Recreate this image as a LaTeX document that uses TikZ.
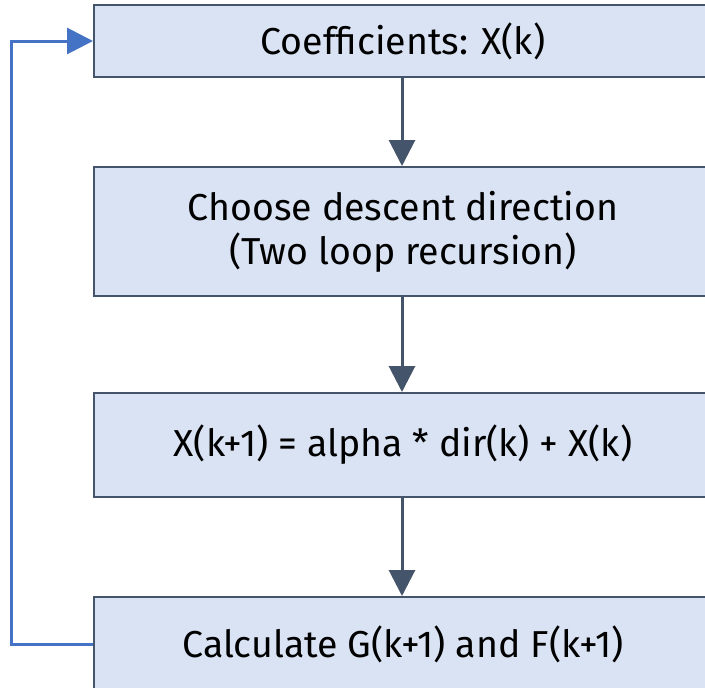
\documentclass[tikz,border=0pt]{standalone}
\usepackage{fontspec}
\setmainfont{Fira Sans}
\usetikzlibrary{arrows.meta}
\definecolor{boxfill}{HTML}{DAE3F3}
\definecolor{boxline}{HTML}{44546A}
\definecolor{loopblue}{HTML}{4472C4}
\begin{document}
\begin{tikzpicture}[x=1pt,y=-1pt,
  stepbox/.style={draw=boxline, line width=2pt, fill=boxfill, rectangle,
    minimum width=618pt, inner sep=0pt, align=center,
    font=\fontsize{37.5}{44}\selectfont},
  flow/.style={draw=boxline, line width=3pt,
    -{Triangle[length=26pt,width=26pt]}},
  loop/.style={draw=loopblue, line width=3pt,
    -{Triangle[length=26pt,width=26pt]}}]
\useasboundingbox (0,0) rectangle (705,688);
\clip (0,0) rectangle (705,688);
\node[stepbox, minimum height=72pt]  (b1) at (403,41)    {Coefficients: X(k)};
\node[stepbox, minimum height=129pt] (b2) at (403,231.5) {Choose descent direction\\(Two loop recursion)};
\node[stepbox, minimum height=104pt] (b3) at (403,445)   {X(k+1) = alpha * dir(k) + X(k)};
\node[stepbox, minimum height=95pt]  (b4) at (403,644.5) {Calculate G(k+1) and F(k+1)};
\coordinate (loopx) at (11,0);
\draw[flow] (b1.south -| 402,0) -- (b2.north -| 402,0);
\draw[flow] (b2.south -| 402,0) -- (b3.north -| 402,0);
\draw[flow] (b3.south -| 402,0) -- (b4.north -| 402,0);
\draw[loop] (b4.west) -- (b4.west -| loopx) -- (b1.west -| loopx) -- (b1.west);
\end{tikzpicture}
\end{document}
